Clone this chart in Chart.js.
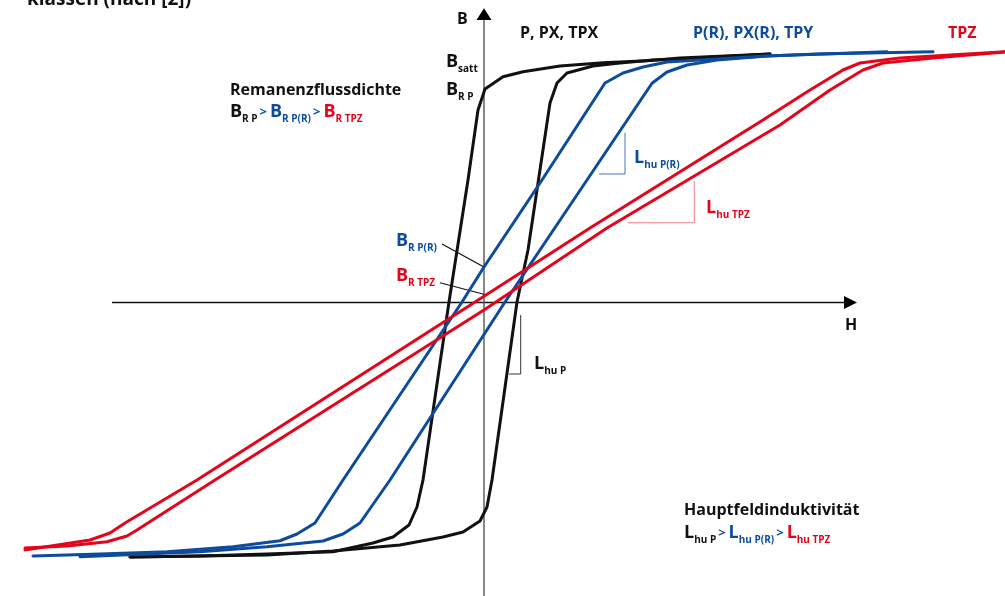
<!DOCTYPE html>
<html>
<head>
<meta charset="utf-8">
<script src="https://cdn.jsdelivr.net/npm/chart.js@4.4.1/dist/chart.umd.min.js"></script>
<style>
html,body{margin:0;padding:0;background:#fff;}
#wrap{position:relative;width:1005px;height:596px;}
</style>
</head>
<body>
<div id="wrap"><canvas id="myChart"></canvas></div>
<script>
// Hystereseschleifen, H willkuerlich, B normiert auf B_satt
// P, PX, TPX
const hPAb  = [2.86,1.96,1.63,1.19,0.76,0.39,0.19,0.01,-0.06,-0.16,-0.35,-0.45,-0.61,-0.67,-0.75,-0.91,-1.11,-1.51,-2.17,-2.84,-3.54];
const bPAb  = [0.994,0.978,0.967,0.959,0.946,0.923,0.903,0.854,0.770,0.490,0.002,-0.270,-0.710,-0.818,-0.890,-0.938,-0.962,-0.997,-1.006,-1.014,-1.018];
const hPAuf = [-3.54,-2.17,-1.51,-0.84,-0.41,-0.21,-0.04,0.03,0.08,0.33,0.44,0.63,0.66,0.73,0.83,1.09,1.36,1.69,1.96,2.86];
const bPAuf = [-1.018,-1.010,-0.994,-0.970,-0.938,-0.918,-0.874,-0.818,-0.710,0.002,0.210,0.718,0.798,0.878,0.918,0.946,0.958,0.970,0.974,0.994];
// P(R), PX(R), TPY
const hPRAb  = [4.03,2.83,2.16,1.83,1.59,1.39,1.21,0.58,0,-0.22,-1.41,-1.69,-1.87,-2.04,-2.51,-3.17,-3.84,-4.51];
const bPRAb  = [1.003,0.986,0.970,0.962,0.942,0.918,0.878,0.490,0.142,0.002,-0.710,-0.882,-0.926,-0.953,-0.977,-0.997,-1.006,-1.014];
const hPRAuf = [-4.04,-2.84,-2.17,-1.61,-1.41,-1.24,-0.94,0.21,1.03,1.68,1.83,2.03,2.33,2.83,3.33,4.49];
const bPRAuf = [-1.017,-0.997,-0.977,-0.954,-0.926,-0.882,-0.710,0.002,0.490,0.877,0.922,0.950,0.970,0.986,0.994,1.003];
// TPZ
const hTAb  = [5.21,4.66,4.16,3.76,3.59,3.26,2.79,1.06,0.02,-2.87,-3.59,-3.74,-3.94,-4.59];
const bTAb  = [1.003,0.990,0.978,0.958,0.930,0.850,0.730,0.298,0.030,-0.710,-0.882,-0.922,-0.950,-0.990];
const hTAuf = [-4.59,-4.17,-3.77,-3.57,-3.47,-2.69,0,1.23,2.96,3.46,3.79,3.99,4.49,5.21];
const bTAuf = [-0.982,-0.974,-0.957,-0.934,-0.910,-0.710,-0.030,0.298,0.710,0.850,0.930,0.958,0.978,1.002];

const schwarz = '#111111';
const blau = '#0d4c9c';
const rot = '#e3051b';
const FONT = '"Open Sans", sans-serif';

function pts(h, b){ return h.map((v,i) => ({x:v, y:b[i]})); }
function kurve(h, b, farbe){
  return {data: pts(h,b), showLine:true, borderColor:farbe, borderWidth:3,
          pointRadius:0, fill:false, tension:0, borderJoinStyle:'round', borderCapStyle:'round'};
}

// Text mit Indizes: [text, farbe, art]  art: m=gross, s=index, g=Zeichen
function rich(ctx, x, y, teile){
  teile.forEach(t => {
    let size = 18, dy = 0, gap = 0;
    if (t[2] === 's'){ size = 10; dy = 5; gap = 2; }
    if (t[2] === 'g'){ size = 13; dy = -1; gap = 3; }
    ctx.font = 'bold ' + size + 'px ' + FONT;
    ctx.fillStyle = t[1];
    ctx.fillText(t[0], x, y + dy);
    x += ctx.measureText(t[0]).width + gap;
  });
}

const deko = {
  id: 'deko',
  beforeDatasetsDraw(chart){
    const ctx = chart.ctx, xs = chart.scales.x, ys = chart.scales.y;
    const X = v => xs.getPixelForValue(v), Y = v => ys.getPixelForValue(v);
    ctx.save();
    // H-Achse
    ctx.strokeStyle = '#111'; ctx.lineWidth = 1.4;
    ctx.beginPath(); ctx.moveTo(X(-3.72), Y(0)); ctx.lineTo(X(3.62), Y(0)); ctx.stroke();
    ctx.fillStyle = '#000';
    ctx.beginPath(); ctx.moveTo(X(3.73), Y(0)); ctx.lineTo(X(3.60), Y(0.026)); ctx.lineTo(X(3.60), Y(-0.026)); ctx.closePath(); ctx.fill();
    // B-Achse
    ctx.strokeStyle = '#555'; ctx.lineWidth = 1.4;
    ctx.beginPath(); ctx.moveTo(X(0), Y(-1.2)); ctx.lineTo(X(0), Y(1.14)); ctx.stroke();
    ctx.beginPath(); ctx.moveTo(X(0), Y(1.177)); ctx.lineTo(X(0.075), Y(1.13)); ctx.lineTo(X(-0.075), Y(1.13)); ctx.closePath(); ctx.fill();
    // Zeigerlinien
    ctx.strokeStyle = '#111'; ctx.lineWidth = 1.2;
    ctx.beginPath(); ctx.moveTo(X(-0.42), Y(0.234)); ctx.lineTo(X(0), Y(0.142)); ctx.stroke();
    ctx.beginPath(); ctx.moveTo(X(-0.44), Y(0.079)); ctx.lineTo(X(0.027), Y(0.030)); ctx.stroke();
    // Steigungsdreiecke
    ctx.lineWidth = 1;
    ctx.strokeStyle = '#4a72b8';
    ctx.beginPath(); ctx.moveTo(X(1.41), Y(0.679)); ctx.lineTo(X(1.41), Y(0.514)); ctx.lineTo(X(1.15), Y(0.514)); ctx.stroke();
    ctx.strokeStyle = '#ee8088';
    ctx.beginPath(); ctx.moveTo(X(2.103), Y(0.486)); ctx.lineTo(X(2.103), Y(0.319)); ctx.lineTo(X(1.44), Y(0.319)); ctx.stroke();
    ctx.strokeStyle = '#333';
    ctx.beginPath(); ctx.moveTo(X(0.367), Y(-0.05)); ctx.lineTo(X(0.367), Y(-0.286)); ctx.lineTo(X(0.25), Y(-0.286)); ctx.stroke();
    ctx.restore();
  },
  afterDraw(chart){
    const ctx = chart.ctx;
    ctx.save();
    ctx.textBaseline = 'alphabetic';
    ctx.font = 'bold 19px ' + FONT; ctx.fillStyle = '#111';
    ctx.fillText('klassen (nach [2])', 27, 5);
    ctx.font = 'bold 16px ' + FONT;
    ctx.fillText('B', 457, 24);
    ctx.fillText('H', 845, 330);
    ctx.fillText('P, PX, TPX', 520, 38);
    ctx.fillStyle = blau; ctx.fillText('P(R), PX(R), TPY', 693, 38);
    ctx.fillStyle = rot; ctx.fillText('TPZ', 948, 38);
    ctx.fillStyle = '#111';
    ctx.fillText('Remanenzflussdichte', 230, 95);
    ctx.fillText('Hauptfeldinduktivität', 684, 515);

    rich(ctx, 446, 67, [['B', schwarz, 'm'], ['satt', schwarz, 's']]);
    rich(ctx, 446, 95, [['B', schwarz, 'm'], ['R P', schwarz, 's']]);
    rich(ctx, 230, 117, [['B', schwarz, 'm'], ['R P', schwarz, 's'], ['>', blau, 'g'],
                         ['B', blau, 'm'], ['R P(R)', blau, 's'], ['>', blau, 'g'],
                         ['B', rot, 'm'], ['R TPZ', rot, 's']]);
    rich(ctx, 684, 538, [['L', schwarz, 'm'], ['hu P', schwarz, 's'], ['>', blau, 'g'],
                         ['L', blau, 'm'], ['hu P(R)', blau, 's'], ['>', blau, 'g'],
                         ['L', rot, 'm'], ['hu TPZ', rot, 's']]);
    rich(ctx, 396, 246, [['B', blau, 'm'], ['R P(R)', blau, 's']]);
    rich(ctx, 396, 281, [['B', rot, 'm'], ['R TPZ', rot, 's']]);
    rich(ctx, 634, 163, [['L', blau, 'm'], ['hu P(R)', blau, 's']]);
    rich(ctx, 706, 213, [['L', rot, 'm'], ['hu TPZ', rot, 's']]);
    rich(ctx, 534, 369, [['L', schwarz, 'm'], ['hu P', schwarz, 's']]);
    ctx.restore();
  }
};

new Chart(document.getElementById('myChart'), {
  type: 'scatter',
  data: {
    datasets: [
      kurve(hTAb, bTAb, rot),
      kurve(hTAuf, bTAuf, rot),
      kurve(hPRAb, bPRAb, blau),
      kurve(hPRAuf, bPRAuf, blau),
      kurve(hPAb, bPAb, schwarz),
      kurve(hPAuf, bPAuf, schwarz)
    ]
  },
  options: {
    responsive: true,
    maintainAspectRatio: false,
    animation: false,
    layout: { padding: 0 },
    plugins: { legend: { display: false }, tooltip: { enabled: false } },
    scales: {
      x: { type: 'linear', min: -4.84, max: 5.21, display: false },
      y: { type: 'linear', min: -1.174, max: 1.21, display: false }
    }
  },
  plugins: [deko]
});
</script>
</body>
</html>
